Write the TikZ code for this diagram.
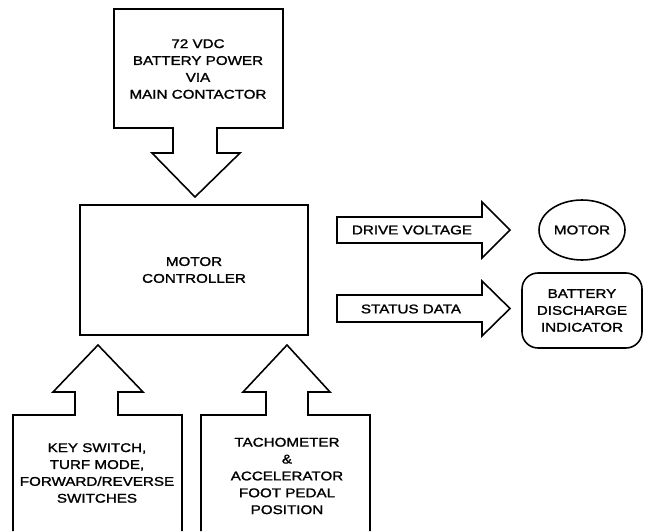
\documentclass[tikz,border=0pt]{standalone}
\usepackage{fontspec}
\setmainfont{Liberation Sans}[FakeStretch=1.2,FakeBold=1.5]
\usetikzlibrary{shapes.geometric}

\begin{document}
\begin{tikzpicture}[x=0.02cm,y=-0.02cm,line width=0.9pt,
  lbl/.style={align=center,inner sep=1pt,font=\fontsize{7.2}{9.6}\selectfont},
  blk/.style={draw,line join=miter}]
\useasboundingbox (0,0) rectangle (645,531);
\draw[blk] (114,9) -- (283,9) -- (283,128) -- (217,128) -- (217,153) -- (240,153)
  -- (195,197) -- (152,153) -- (173,153) -- (173,128) -- (114,128) -- cycle;
\node[lbl] (batt72) at (198,69) {72 VDC\\BATTERY POWER\\VIA\\MAIN CONTACTOR};
\node[blk,lbl,minimum width=4.56cm,minimum height=2.6cm] (ctrl) at (194,270) {MOTOR\\CONTROLLER};
\draw[blk] (337,217) -- (482,217) -- (482,202) -- (510,230) -- (482,258) -- (482,243) -- (337,243) -- cycle;
\node[lbl] (drive) at (412,230) {DRIVE VOLTAGE};
\draw[blk] (337,295) -- (482,295) -- (482,281) -- (510,308.5) -- (482,336) -- (482,322) -- (337,322) -- cycle;
\node[lbl] (status) at (411,309) {STATUS DATA};
\node[blk,lbl,ellipse,inner sep=0pt,minimum width=1.72cm,minimum height=1.2cm] (motor) at (582,230) {MOTOR};
\node[blk,lbl,rounded corners=0.32cm,minimum width=2.4cm,minimum height=1.5cm] (disch) at (582,310.5)
  {BATTERY\\DISCHARGE\\INDICATOR};
\draw[blk] (13,531) -- (13,415) -- (75,415) -- (75,392) -- (53,392) -- (98,345)
  -- (143,392) -- (118,392) -- (118,415) -- (182,415) -- (182,531);
\node[lbl] (keysw) at (97,473) {KEY SWITCH,\\TURF MODE,\\FORWARD/REVERSE\\SWITCHES};
\draw[blk] (201,531) -- (201,415) -- (266,415) -- (266,392) -- (243,392) -- (287,345)
  -- (330,392) -- (308,392) -- (308,415) -- (370,415) -- (370,531);
\node[lbl] (tacho) at (287,476) {TACHOMETER\\\&\\ACCELERATOR\\FOOT PEDAL\\POSITION};
\end{tikzpicture}
\end{document}
